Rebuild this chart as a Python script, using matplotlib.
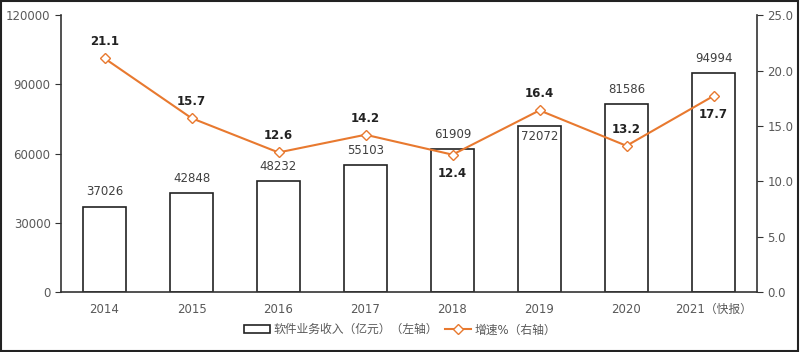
import matplotlib
matplotlib.use('Agg')
import matplotlib.pyplot as plt
import numpy as np

plt.rcParams['font.family'] = ['DejaVu Sans', 'Noto Sans CJK SC']

# Data
years = ['2014', '2015', '2016', '2017', '2018', '2019', '2020', '2021（快报）']
revenue = [37026, 42848, 48232, 55103, 61909, 72072, 81586, 94994]
growth = [21.1, 15.7, 12.6, 14.2, 12.4, 16.4, 13.2, 17.7]
growth_below = [False, False, False, False, True, False, False, True]
revenue_inside = [False, False, False, False, False, True, False, False]

orange = '#E8792F'
grey = '#595959'

fig = plt.figure(figsize=(8, 3.52), dpi=100)
ax = fig.add_axes([0.07625, 0.1705, 0.87, 0.7865])
ax2 = ax.twinx()

x = np.arange(len(years))
ax.bar(x, revenue, width=0.5, color='white', edgecolor='#222222', linewidth=1.2,
       label='软件业务收入（亿元）（左轴）', zorder=2)
for xi, v, inside in zip(x, revenue, revenue_inside):
    if inside:
        ax.text(xi, v - 1800, str(v), ha='center', va='top', fontsize=8.5, color='#404040')
    else:
        ax.text(xi, v + 3500, str(v), ha='center', va='bottom', fontsize=8.5, color='#404040')

ax.set_xlim(-0.5, len(years) - 0.5)
ax.set_ylim(0, 120000)
ax.set_yticks(range(0, 120001, 30000))
ax.set_xticks(x)
ax.set_xticklabels(years)

ax2.plot(x, growth, color=orange, linewidth=1.5, marker='D', markersize=5,
         markerfacecolor='white', markeredgecolor=orange, markeredgewidth=1.0,
         label='增速%（右轴）', zorder=3)
for xi, g, below in zip(x, growth, growth_below):
    if below:
        ax2.text(xi, g - 1.1, f'{g:.1f}', ha='center', va='top', fontsize=8.5,
                 fontweight='bold', color='#222222')
    else:
        ax2.text(xi, g + 0.9, f'{g:.1f}', ha='center', va='bottom', fontsize=8.5,
                 fontweight='bold', color='#222222')
ax2.set_ylim(0, 25)
ax2.set_yticks(np.arange(0, 25.1, 5))
ax2.set_yticklabels([f'{t:.1f}' for t in np.arange(0, 25.1, 5)])

for a in (ax, ax2):
    a.spines['top'].set_visible(False)
    for s in ('left', 'right', 'bottom'):
        a.spines[s].set_color('#333333')
        a.spines[s].set_linewidth(1.2)
    a.tick_params(axis='y', labelcolor=grey, color='#333333', labelsize=8.5,
                  length=4, direction='out')
ax.tick_params(axis='x', length=0, colors=grey, labelsize=8.5, pad=8)
ax2.spines['left'].set_visible(False)
ax2.spines['bottom'].set_visible(False)
ax.spines['right'].set_visible(False)

h1, l1 = ax.get_legend_handles_labels()
h2, l2 = ax2.get_legend_handles_labels()
leg = fig.legend(h1 + h2, l1 + l2, loc='center', bbox_to_anchor=(0.5, 0.063), ncol=2,
                 frameon=False, fontsize=8.5, handlelength=2.2, handleheight=0.7,
                 columnspacing=0.6, handletextpad=0.3)
for t in leg.get_texts():
    t.set_color(grey)

# outer border
fig.patches.append(plt.Rectangle((0.001, 0.002), 0.997, 0.995, transform=fig.transFigure,
                                 fill=False, edgecolor='#222222', linewidth=1.5))

fig.savefig('out.png', dpi=100)
